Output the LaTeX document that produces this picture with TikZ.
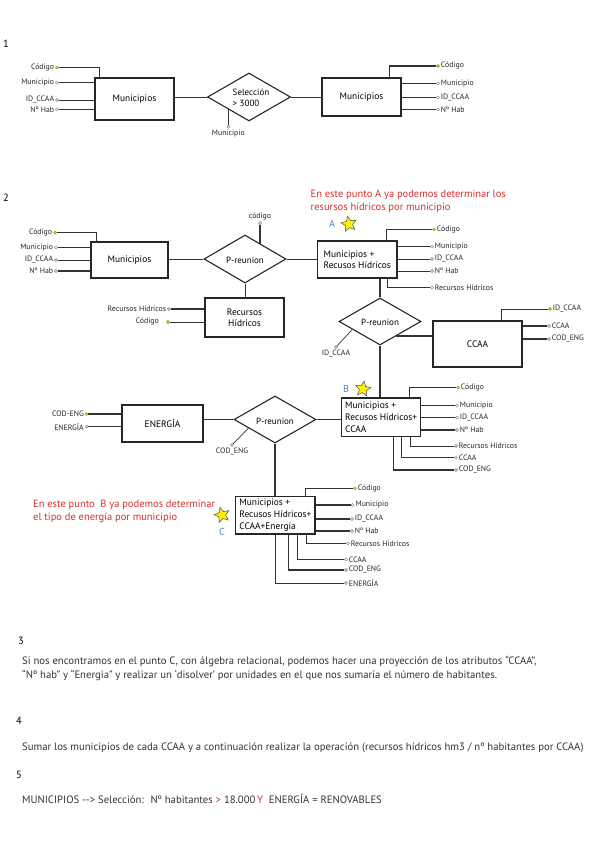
\documentclass[tikz,border=0pt]{standalone}
\usepackage{fontspec}
\setmainfont{PT Sans}
\usetikzlibrary{shapes.geometric}
\definecolor{redt}{RGB}{215,45,45}
\definecolor{bluet}{RGB}{70,130,215}
\definecolor{keyy}{RGB}{235,220,20}
\newcommand\Lat[5]{\node[#5] (#1) at (#2,#3) {};\node[lab,anchor=east] (#1t) at (#1.west) {#4};}
\newcommand\Rat[5]{\node[#5] (#1) at (#2,#3) {};\node[lab,anchor=west] (#1t) at (#1.east) {#4};}
\begin{document}
\begin{tikzpicture}[x=1pt,y=-1pt,
  ent/.style={draw=black!85,line width=1.1pt,rectangle,inner sep=0,align=center,font=\fontsize{9.4}{11.5}\selectfont},
  rel/.style={draw=black!85,line width=1.1pt,diamond,inner sep=0},
  rtxt/.style={font=\fontsize{9}{11}\selectfont,align=left,inner sep=0},
  att/.style={circle,draw=black!55,line width=0.4pt,fill=white,inner sep=0,minimum size=3pt},
  key/.style={att,fill=keyy,draw=keyy!60!black},
  lab/.style={font=\fontsize{7.8}{9}\selectfont,inner sep=1pt,text=black!85},
  ln/.style={draw=black!80,line width=0.7pt},
  tk/.style={draw=black!80,line width=1.4pt},
  num/.style={font=\fontsize{10.5}{12}\selectfont,inner sep=0,anchor=west},
  body/.style={font=\fontsize{10.7}{12}\selectfont,inner sep=0,anchor=base west,text=black!80},
  note/.style={font=\fontsize{10.5}{13}\selectfont,inner sep=0,anchor=north west,align=left,text=redt},
  letter/.style={font=\fontsize{10}{11}\selectfont,inner sep=0,text=bluet},
  starm/.style={star,star points=5,star point ratio=2.2,fill=yellow,draw=black!70,line width=0.5pt,minimum size=16pt,inner sep=0}
]
\useasboundingbox (0,0) rectangle (599,848);
% ---------------- section 1
\node[num] (n1) at (3,44) {1};
\node[ent,minimum width=79pt,minimum height=42pt] (m1) at (134.5,99) {Municipios};
\node[rel,minimum width=83pt,minimum height=48pt] (s1) at (249,97) {};
\node[rtxt] (s1t) at (251,98) {Selección\\> 3000};
\node[ent,minimum width=79pt,minimum height=38pt] (m1r) at (361.5,97) {Municipios};
\Lat{c1a}{57}{67.7}{Código}{key}
\Lat{c1b}{57}{82.7}{Municipio}{att}
\Lat{c1c}{57}{100}{ID\_CCAA}{att}
\Lat{c1d}{57}{109.3}{Nº Hab}{att}
\draw[tk] (c1a) -| ([xshift=5pt]m1.north west);
\draw[ln] (c1b) -- (c1b -| m1.west);
\draw[ln] (c1c) -- (c1c -| m1.west);
\draw[tk] (c1d) -- (c1d -| m1.west);
\draw[ln] (m1.east |- s1.west) -- (s1.west);
\draw[ln] (s1.east) -- (s1.east -| m1r.west);
\node[att] (c1e) at (228.3,126.7) {};
\node[lab,anchor=north] (c1et) at (c1e.south) {Municipio};
\draw[ln] (c1e) -- (c1e |- s1.209);
\Rat{c1f}{438}{66}{Código}{key}
\Rat{c1g}{438}{83.3}{Municipio}{att}
\Rat{c1h}{438}{97.3}{ID\_CCAA}{att}
\Rat{c1i}{438}{109.3}{Nº Hab}{att}
\draw[tk] (c1f) -| ([xshift=-12pt]m1r.north east);
\draw[tk] (c1g) -- (c1g -| m1r.east);
\draw[tk] (c1h) -- (c1h -| m1r.east);
\draw[tk] (c1i) -- (c1i -| m1r.east);
% ---------------- section 2
\node[num] (n2) at (3,198) {2};
\node[ent,minimum width=77pt,minimum height=36pt] (m2) at (129.5,260) {Municipios};
\Lat{c2a}{55}{232.7}{Código}{key}
\Lat{c2b}{56}{247.3}{Municipio}{att}
\Lat{c2c}{56}{260}{ID\_CCAA}{att}
\Lat{c2d}{56}{271}{Nº Hab}{att}
\draw[tk] (c2a) -| ([xshift=6pt]m2.north west);
\draw[ln] (c2b) -- (c2b -| m2.west);
\draw[ln] (c2c) -- (c2c -| m2.west);
\draw[tk] (c2d) -- (c2d -| m2.west);
\node[rel,minimum width=82pt,minimum height=48pt] (p1) at (245,259) {};
\node[rtxt] (p1t) at (245,260) {P-reunion};
\draw[ln] (m2.east |- p1.west) -- (p1.west);
\node[att] (c2e) at (260,223) {};
\node[lab,anchor=south] (c2et) at (c2e.north) {código};
\draw[tk] (c2e) -- (c2e |- p1.45);
\node[ent,minimum width=79pt,minimum height=39pt] (rh) at (244.5,317.5) {Recursos\\Hídricos};
\draw[ln] (p1.south) -- (p1.south |- rh.north);
\Lat{c2f}{169}{309}{Recursos Hídricos}{att}
\node[key] (c2g) at (168,322) {};
\node[lab,anchor=east] (c2gt) at (160,322) {Código};
\draw[tk] (c2f) -- (c2f -| rh.west);
\draw[ln] (c2g) -- (c2g -| rh.west);
% MRH
\node[ent,minimum width=79.5pt,minimum height=37pt,align=left] (mrh) at (357.25,259.5) {Municipios +\\Recusos Hídricos};
\draw[ln] (p1.east) -- (p1.east -| mrh.west);
\node[note] (na) at (310.5,190) {En este punto A ya podemos determinar los\\resursos hídricos por municipio};
\node[letter] (la) at (332,224) {A};
\node[starm,rotate=10] (sa) at (349,224) {};
\Rat{c3a}{434}{229.3}{Código}{key}
\Rat{c3b}{432}{246.7}{Municipio}{att}
\Rat{c3c}{432}{259}{ID\_CCAA}{att}
\Rat{c3d}{432}{271}{Nº Hab}{att}
\Rat{c3e}{432}{287.7}{Recursos Hídricos}{att}
\draw[tk] (c3a) -| ([xshift=-11pt]mrh.north east);
\draw[ln] (c3b) -- (c3b -| mrh.east);
\draw[ln] (c3c) -- (c3c -| mrh.east);
\draw[ln] (c3d) -- (c3d -| mrh.east);
\draw[tk] (c3e) -| ([xshift=-10pt]mrh.south east);
% P2
\node[rel,minimum width=82pt,minimum height=47pt] (p2) at (380,321.5) {};
\node[rtxt] (p2t) at (380,322.5) {P-reunion};
\draw[tk] (p2.north) -- (p2.north |- mrh.south);
\node[att] (c3f) at (336,347) {};
\node[lab,anchor=north] (c3ft) at (c3f.south) {ID\_CCAA};
\draw[ln] (c3f) -- (p2.196);
\node[ent,minimum width=89pt,minimum height=46pt] (cc) at (477.5,344) {CCAA};
\draw[tk] (p2.-42) -- (p2.-42 -| cc.west);
\Rat{c4a}{550}{309}{ID\_CCAA}{key}
\Rat{c4b}{549}{326}{CCAA}{att}
\Rat{c4c}{549}{339}{COD\_ENG}{att}
\draw[ln] (c4a) -| ([xshift=-21pt]cc.north east);
\draw[tk] (c4b) -- (c4b -| cc.east);
\draw[tk] (c4c) -- (c4c -| cc.east);
% MRHC
\node[ent,minimum width=79pt,minimum height=38.7pt,align=left,font=\fontsize{9.4}{11.8}\selectfont] (mrhc) at (381.2,417.35) {Municipios +\\Recusos Hídricos+\\CCAA};
\draw[tk] (p2.south) -- (p2.south |- mrhc.north);
\node[letter] (lb) at (346,389) {B};
\node[starm,rotate=-8] (sb) at (363,389) {};
\Rat{c5a}{458}{387.7}{Código}{key}
\Rat{c5b}{457}{405.7}{Municipio}{att}
\Rat{c5c}{457}{417.7}{ID\_CCAA}{att}
\Rat{c5d}{457}{430}{Nº Hab}{att}
\Rat{c5e}{456}{446}{Recursos Hídricos}{att}
\Rat{c5f}{456}{457.7}{CCAA}{att}
\Rat{c5g}{456}{470}{COD\_ENG}{att}
\draw[tk] (c5a) -| ([xshift=-12pt]mrhc.north east);
\draw[ln] (c5b) -- (c5b -| mrhc.east);
\draw[tk] (c5c) -- (c5c -| mrhc.east);
\draw[tk] (c5d) -- (c5d -| mrhc.east);
\draw[ln] (c5e) -| ([xshift=-11pt]mrhc.south east);
\draw[tk] (c5f) -| ([xshift=-20pt]mrhc.south east);
\draw[tk] (c5g) -| ([xshift=-28pt]mrhc.south east);
% P3 and ENERGIA
\node[rel,minimum width=82pt,minimum height=47pt] (p3) at (275,419.5) {};
\node[rtxt] (p3t) at (275,421) {P-reunion};
\draw[tk] (p3.east) -- (p3.east -| mrhc.west);
\node[ent,minimum width=81pt,minimum height=37pt] (en) at (162.5,423.5) {ENERGÍA};
\draw[tk] (p3.west -| en.east) -- (p3.west);
\Lat{c6a}{86.7}{414}{COD-ENG}{key}
\Lat{c6b}{86.7}{426.7}{ENERGÍA}{att}
\draw[tk] (c6a) -- (c6a -| en.west);
\draw[ln] (c6b) -- (c6b -| en.west);
\node[att] (c6c) at (232,445) {};
\node[lab,anchor=north] (c6ct) at (c6c.south) {COD\_ENG};
\draw[ln] (c6c) -- (p3.198);
% final box
\node[ent,minimum width=79.3pt,minimum height=37.3pt,align=left,font=\fontsize{9.4}{11.8}\selectfont] (fin) at (275.35,515.35) {Municipios +\\Recusos Hídricos+\\CCAA+Energía};
\draw[tk] (p3.south) -- (p3.south |- fin.north);
\node[note] (nb) at (33,500) {En este punto \ B ya podemos determinar\\el tipo de energía por municipio};
\node[starm,rotate=15] (sc) at (222,515) {};
\node[letter] (lc) at (222,532) {C};
\Rat{c7a}{355}{488.3}{Código}{key}
\Rat{c7b}{352.7}{505}{Municipio}{att}
\Rat{c7c}{352}{519}{ID\_CCAA}{att}
\Rat{c7d}{352}{531}{Nº Hab}{att}
\Rat{c7e}{348}{543.3}{Recursos Hídricos}{att}
\Rat{c7f}{346}{559.3}{CCAA}{att}
\Rat{c7g}{346}{570}{COD\_ENG}{att}
\Rat{c7h}{346}{583}{ENERGÍA}{att}
\draw[tk] (c7a) -| ([xshift=-10pt]fin.north east);
\draw[tk] (c7b) -- (c7b -| fin.east);
\draw[tk] (c7c) -- (c7c -| fin.east);
\draw[tk] (c7d) -- (c7d -| fin.east);
\draw[tk] (c7e) -| ([xshift=-9pt]fin.south east);
\draw[tk] (c7f) -| ([xshift=-18pt]fin.south east);
\draw[tk] (c7g) -| ([xshift=-27pt]fin.south east);
\draw[ln] (c7h) -| (fin.south);
% ---------------- sections 3-5
\node[num] (n3) at (18,641) {3};
\node[body] (t3a) at (22,664) {Si nos encontramos en el punto C, con álgebra relacional, podemos hacer una proyección de los atributos “CCAA”,};
\node[body] (t3b) at (22,678) {“Nº hab” y “Energia” y realizar un ‘disolver’ por unidades en el que nos sumaría el número de habitantes.};
\node[num] (n4) at (16,721) {4};
\node[body] (t4) at (22,750) {Sumar los municipios de cada CCAA y a continuación realizar la operación (recursos hídricos hm3 / nº habitantes por CCAA)};
\node[num] (n5) at (16,775) {5};
\node[body] (t5) at (22,803) {MUNICIPIOS {-}{-}> Selección: \ Nº habitantes \textcolor{redt}{>} 18.000\,\textcolor{redt}{Y} \ ENERGÍA = RENOVABLES};
\end{tikzpicture}
\end{document}
